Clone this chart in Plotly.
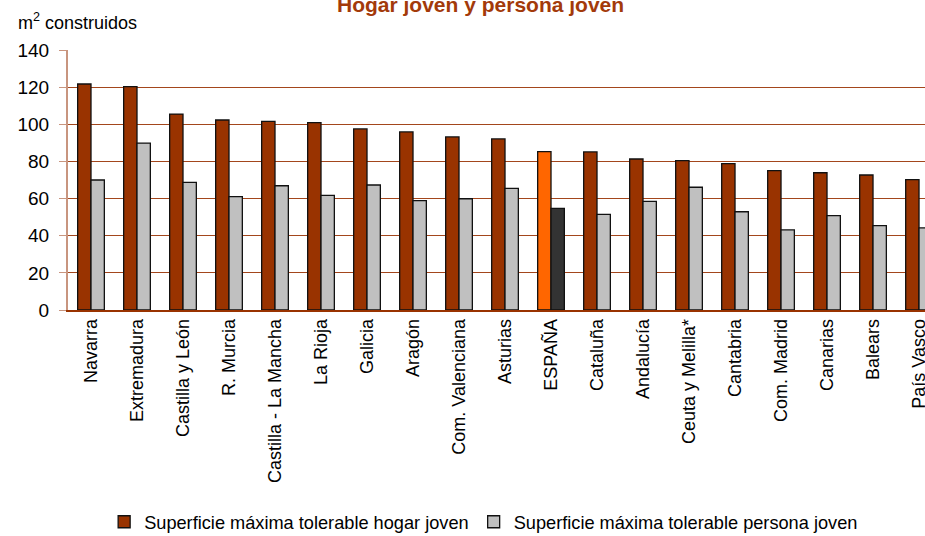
import plotly.graph_objects as go

categories = ["Navarra", "Extremadura", "Castilla y León", "R. Murcia", "Castilla - La Mancha",
              "La Rioja", "Galicia", "Aragón", "Com. Valenciana", "Asturias", "ESPAÑA",
              "Cataluña", "Andalucía", "Ceuta y Melilla*", "Cantabria", "Com. Madrid",
              "Canarias", "Balears", "País Vasco"]
hogar = [121.7, 120.3, 105.5, 102.3, 101.6, 100.9, 97.5, 95.9, 93.2, 92.1, 85.3,
         85.1, 81.3, 80.4, 78.8, 75.0, 73.9, 72.7, 70.2]
persona = [70.0, 89.9, 68.7, 61.0, 66.9, 61.7, 67.3, 58.9, 59.9, 65.5, 54.7,
           51.5, 58.5, 66.1, 52.9, 43.1, 50.8, 45.4, 44.2]
y_ticks = [0, 20, 40, 60, 80, 100, 120, 140]

c_hogar, c_persona = "#993300", "#C0C0C0"
c_esp_hogar, c_esp_persona = "#FF6600", "#333333"
col_h = [c_esp_hogar if c == "ESPAÑA" else c_hogar for c in categories]
col_p = [c_esp_persona if c == "ESPAÑA" else c_persona for c in categories]

FONT = "Liberation Sans, Arial, sans-serif"

fig = go.Figure()
fig.add_trace(go.Bar(x=categories, y=hogar, name="Superficie máxima tolerable hogar joven",
                     marker=dict(color=col_h, line=dict(color="#111111", width=1.3))))
fig.add_trace(go.Bar(x=categories, y=persona, name="Superficie máxima tolerable persona joven",
                     marker=dict(color=col_p, line=dict(color="#111111", width=1.3))))

fig.update_layout(
    width=925, height=536,
    margin=dict(l=68, r=0, t=50, b=226, autoexpand=False),
    plot_bgcolor="white", paper_bgcolor="white",
    barmode="group", bargap=0.42, bargroupgap=0,
    font=dict(family=FONT, size=18, color="black"),
    showlegend=True,
    legend=dict(orientation="h", x=0.485, xanchor="center", xref="paper",
                y=-0.815, yanchor="middle", font=dict(size=18.2),
                itemwidth=30, tracegroupgap=0),
    xaxis=dict(type="category", range=[-0.5, 18.13], tickangle=-90,
               showgrid=False, showline=True, linecolor="#993300", linewidth=1.5,
               ticks="", tickfont=dict(size=18), automargin=False),
    yaxis=dict(range=[0, 140], tickvals=y_ticks, showgrid=True, gridcolor="#A3461C",
               gridwidth=1, showline=True, linecolor="#C8957F", linewidth=2,
               ticks="outside", ticklen=7, tickcolor="#C8957F", tickwidth=1,
               ticklabelstandoff=6, automargin=False,
               tickfont=dict(size=19), zeroline=False),
    annotations=[
        dict(text="<b>Hogar joven y persona joven</b>", xref="paper", yref="paper",
             x=(480 - 68) / 857, y=1.0 + (50 - 5) / 260, xanchor="center", yanchor="middle",
             showarrow=False, font=dict(size=21, color="#A33A0A", family=FONT)),
        dict(text="m<sup>2</sup> construidos", xref="paper", yref="paper",
             x=(16 - 68) / 857, y=1.0 + (50 - 22) / 260, xanchor="left", yanchor="middle",
             showarrow=False, font=dict(size=18, color="black", family=FONT)),
    ],
)

fig.write_html("out.html", config={"displayModeBar": False},
               post_script="document.body.style.margin='0px';")
